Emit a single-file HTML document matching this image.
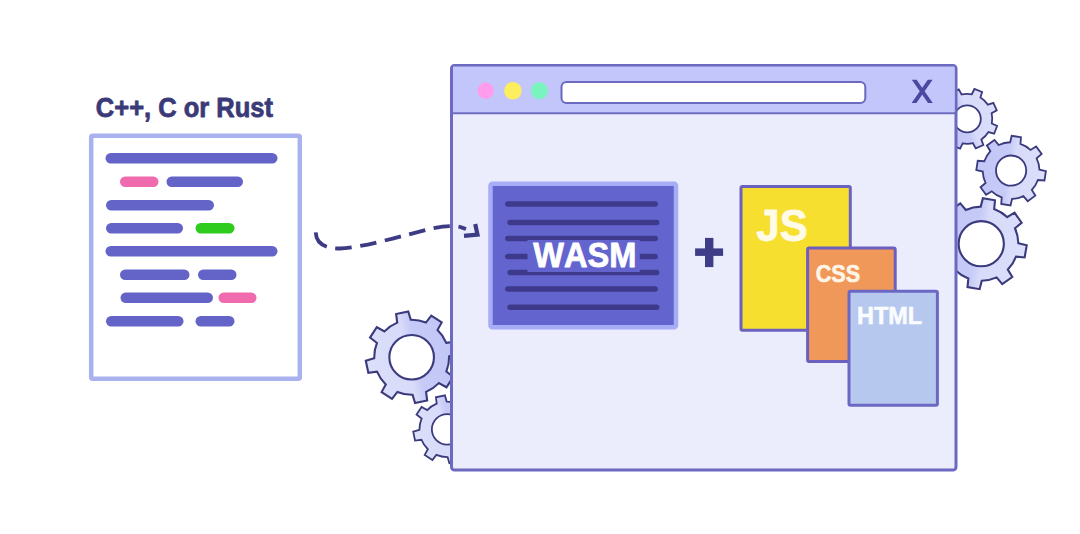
<!DOCTYPE html>
<html><head><meta charset="utf-8"><style>
html,body{margin:0;padding:0;background:#fff;width:1080px;height:534px;overflow:hidden}
svg{position:absolute;left:0;top:0;display:block}
text{font-family:"Liberation Sans",sans-serif;font-weight:bold;font-kerning:none}
</style></head><body>
<svg width="1080" height="534" viewBox="0 0 1080 534">
<text x="95.85" y="117.40" font-size="27.21" textLength="177.06" lengthAdjust="spacingAndGlyphs" fill="#3b3a78" stroke="#3b3a78" stroke-width="0.8" stroke-linejoin="round">C++, C or Rust</text>
<rect x="91.2" y="135.7" width="208.6" height="243" fill="#fff" stroke="#a9b2ee" stroke-width="4.5" rx="1.5"/>
<rect x="105.5" y="153" width="172.0" height="10.5" rx="5.25" fill="#6464c8"/>
<rect x="120" y="176.5" width="38.5" height="10.5" rx="5.25" fill="#f06aae"/>
<rect x="166.5" y="176.5" width="76.5" height="10.5" rx="5.25" fill="#6464c8"/>
<rect x="106" y="200" width="108" height="10.5" rx="5.25" fill="#6464c8"/>
<rect x="106" y="223" width="77" height="10.5" rx="5.25" fill="#6464c8"/>
<rect x="195.5" y="223" width="39.0" height="10.5" rx="5.25" fill="#2fcc1e"/>
<rect x="105.5" y="246" width="172.0" height="10.5" rx="5.25" fill="#6464c8"/>
<rect x="120" y="269.5" width="69.5" height="10.5" rx="5.25" fill="#6464c8"/>
<rect x="198" y="269.5" width="38.5" height="10.5" rx="5.25" fill="#6464c8"/>
<rect x="120.5" y="292.5" width="92.5" height="10.5" rx="5.25" fill="#6464c8"/>
<rect x="218.5" y="292.5" width="38.0" height="10.5" rx="5.25" fill="#f06aae"/>
<rect x="106" y="316" width="77.5" height="10.5" rx="5.25" fill="#6464c8"/>
<rect x="195.5" y="316" width="39.0" height="10.5" rx="5.25" fill="#6464c8"/>
<linearGradient id="gA" gradientUnits="userSpaceOnUse" x1="938.4" y1="129.4" x2="996.1" y2="108.3">
<stop offset="0" stop-color="#c2c6f6"/><stop offset="0.44" stop-color="#c6caf7"/><stop offset="0.54" stop-color="#d8dbf9"/><stop offset="1" stop-color="#dcdffa"/></linearGradient>
<path d="M991.84,123.45 L997.11,125.99 L994.11,133.71 L988.51,132.04 A25.02,25.02 0 0 1 981.39,139.49 L983.32,145.01 L975.73,148.35 L972.96,143.21 A25.02,25.02 0 0 1 962.65,143.44 L960.11,148.71 L952.39,145.71 L954.06,140.11 A25.02,25.02 0 0 1 946.61,132.99 L941.09,134.92 L937.75,127.33 L942.89,124.56 A25.02,25.02 0 0 1 942.66,114.25 L937.39,111.71 L940.39,103.99 L945.99,105.66 A25.02,25.02 0 0 1 953.11,98.21 L951.18,92.69 L958.77,89.35 L961.54,94.49 A25.02,25.02 0 0 1 971.85,94.26 L974.39,88.99 L982.11,91.99 L980.44,97.59 A25.02,25.02 0 0 1 987.89,104.71 L993.41,102.78 L996.75,110.37 L991.61,113.14 A25.02,25.02 0 0 1 991.84,123.45 Z" fill="url(#gA)" stroke="#3b3a7c" stroke-width="1.80" stroke-linejoin="miter"/>
<circle cx="967.25" cy="118.85" r="13.55" fill="#fff" stroke="#3b3a7c" stroke-width="1.80"/>
<linearGradient id="gB" gradientUnits="userSpaceOnUse" x1="976.6" y1="166.4" x2="1045.6" y2="174.8">
<stop offset="0" stop-color="#c2c6f6"/><stop offset="0.44" stop-color="#c6caf7"/><stop offset="0.54" stop-color="#d8dbf9"/><stop offset="1" stop-color="#dcdffa"/></linearGradient>
<path d="M1039.45,169.66 L1045.90,171.17 L1044.47,180.46 L1037.87,179.98 A28.36,28.36 0 0 1 1031.81,189.98 L1035.30,195.61 L1027.73,201.17 L1023.40,196.16 A28.36,28.36 0 0 1 1012.04,198.95 L1010.53,205.40 L1001.24,203.97 L1001.72,197.37 A28.36,28.36 0 0 1 991.72,191.31 L986.09,194.80 L980.53,187.23 L985.54,182.90 A28.36,28.36 0 0 1 982.75,171.54 L976.30,170.03 L977.73,160.74 L984.33,161.22 A28.36,28.36 0 0 1 990.39,151.22 L986.90,145.59 L994.47,140.03 L998.80,145.04 A28.36,28.36 0 0 1 1010.16,142.25 L1011.67,135.80 L1020.96,137.23 L1020.48,143.83 A28.36,28.36 0 0 1 1030.48,149.89 L1036.11,146.40 L1041.67,153.97 L1036.66,158.30 A28.36,28.36 0 0 1 1039.45,169.66 Z" fill="url(#gB)" stroke="#3b3a7c" stroke-width="1.80" stroke-linejoin="miter"/>
<circle cx="1011.1" cy="170.6" r="15.10" fill="#fff" stroke="#3b3a7c" stroke-width="1.80"/>
<linearGradient id="gC" gradientUnits="userSpaceOnUse" x1="936.3" y1="236.6" x2="1026.2" y2="250.8">
<stop offset="0" stop-color="#c2c6f6"/><stop offset="0.44" stop-color="#c6caf7"/><stop offset="0.54" stop-color="#d8dbf9"/><stop offset="1" stop-color="#dcdffa"/></linearGradient>
<path d="M1018.33,243.18 L1026.72,245.32 L1024.63,257.43 L1016.01,256.63 A37.08,37.08 0 0 1 1007.84,269.55 L1012.26,277.00 L1002.22,284.08 L996.68,277.42 A37.08,37.08 0 0 1 981.77,280.78 L979.63,289.17 L967.52,287.08 L968.32,278.46 A37.08,37.08 0 0 1 955.40,270.29 L947.95,274.71 L940.87,264.67 L947.53,259.13 A37.08,37.08 0 0 1 944.17,244.22 L935.78,242.08 L937.87,229.97 L946.49,230.77 A37.08,37.08 0 0 1 954.66,217.85 L950.24,210.40 L960.28,203.32 L965.82,209.98 A37.08,37.08 0 0 1 980.73,206.62 L982.87,198.23 L994.98,200.32 L994.18,208.94 A37.08,37.08 0 0 1 1007.10,217.11 L1014.55,212.69 L1021.63,222.73 L1014.97,228.27 A37.08,37.08 0 0 1 1018.33,243.18 Z" fill="url(#gC)" stroke="#3b3a7c" stroke-width="2.10" stroke-linejoin="miter"/>
<circle cx="981.25" cy="243.7" r="22.60" fill="#fff" stroke="#3b3a7c" stroke-width="2.10"/>
<linearGradient id="gD" gradientUnits="userSpaceOnUse" x1="456.6" y1="347.7" x2="366.7" y2="366.8">
<stop offset="0" stop-color="#c2c6f6"/><stop offset="0.44" stop-color="#c6caf7"/><stop offset="0.54" stop-color="#d8dbf9"/><stop offset="1" stop-color="#dcdffa"/></linearGradient>
<path d="M446.26,342.84 L454.94,341.70 L457.52,353.85 L449.13,356.34 A37.49,37.49 0 0 1 446.31,371.53 L453.26,376.87 L446.49,387.28 L438.80,383.11 A37.49,37.49 0 0 1 426.06,391.86 L427.20,400.54 L415.05,403.12 L412.56,394.73 A37.49,37.49 0 0 1 397.37,391.91 L392.03,398.86 L381.62,392.09 L385.79,384.40 A37.49,37.49 0 0 1 377.04,371.66 L368.36,372.80 L365.78,360.65 L374.17,358.16 A37.49,37.49 0 0 1 376.99,342.97 L370.04,337.63 L376.81,327.22 L384.50,331.39 A37.49,37.49 0 0 1 397.24,322.64 L396.10,313.96 L408.25,311.38 L410.74,319.77 A37.49,37.49 0 0 1 425.93,322.59 L431.27,315.64 L441.68,322.41 L437.51,330.10 A37.49,37.49 0 0 1 446.26,342.84 Z" fill="url(#gD)" stroke="#3b3a7c" stroke-width="2.10" stroke-linejoin="miter"/>
<circle cx="411.65" cy="357.25" r="22.30" fill="#fff" stroke="#3b3a7c" stroke-width="2.10"/>
<linearGradient id="gE" gradientUnits="userSpaceOnUse" x1="480.0" y1="420.6" x2="414.3" y2="438.1">
<stop offset="0" stop-color="#c2c6f6"/><stop offset="0.44" stop-color="#c6caf7"/><stop offset="0.54" stop-color="#d8dbf9"/><stop offset="1" stop-color="#dcdffa"/></linearGradient>
<path d="M472.82,418.92 L479.25,418.14 L481.08,427.13 L474.86,428.92 A27.71,27.71 0 0 1 472.68,440.13 L477.78,444.12 L472.71,451.77 L467.05,448.64 A27.71,27.71 0 0 1 457.58,455.02 L458.36,461.45 L449.37,463.28 L447.58,457.06 A27.71,27.71 0 0 1 436.37,454.88 L432.38,459.98 L424.73,454.91 L427.86,449.25 A27.71,27.71 0 0 1 421.48,439.78 L415.05,440.56 L413.22,431.57 L419.44,429.78 A27.71,27.71 0 0 1 421.62,418.57 L416.52,414.58 L421.59,406.93 L427.25,410.06 A27.71,27.71 0 0 1 436.72,403.68 L435.94,397.25 L444.93,395.42 L446.72,401.64 A27.71,27.71 0 0 1 457.93,403.82 L461.92,398.72 L469.57,403.79 L466.44,409.45 A27.71,27.71 0 0 1 472.82,418.92 Z" fill="url(#gE)" stroke="#3b3a7c" stroke-width="1.80" stroke-linejoin="miter"/>
<circle cx="447.15" cy="429.35" r="15.30" fill="#fff" stroke="#3b3a7c" stroke-width="1.80"/>
<rect x="451.5" y="65.5" width="504.5" height="404.5" fill="#ebedfc" stroke="#6b69c0" stroke-width="3" rx="3"/>
<path d="M453,66.5 H954.5 V112.5 H453 Z" fill="#c2c6fa"/>
<line x1="452" y1="113.2" x2="956" y2="113.2" stroke="#6b69c0" stroke-width="2"/>
<circle cx="485.7" cy="90.8" r="8.2" fill="#ff9cec"/>
<circle cx="512.9" cy="90.8" r="8.8" fill="#fcee5c"/>
<circle cx="539.4" cy="90.8" r="8.5" fill="#7af4be"/>
<rect x="561.5" y="82" width="303.8" height="21" rx="5" fill="#fff" stroke="#6b69c0" stroke-width="2"/>
<path d="M911.8,79.8 H916.6 L932.8,103 H928 Z M927.8,79.8 H932.6 L916.4,103 H911.6 Z" fill="#4a48a0"/>
<path d="M315.7,232.3 C316.2,244 326,248.6 340,248.5 C360,248.3 405,235 432,228.5 C446,225.6 455,225.3 462,227.6 L466,229" fill="none" stroke="#3e3b85" stroke-width="3.8" stroke-dasharray="19.5 8.6 16.5 8.6 16.5 8.6 16.5 8.6 16.5 8.6 16.5 8.6 16.5 8.6 16.5 100"/>
<path d="M464,235.8 L477.5,234.6 L475.2,224" fill="none" stroke="#3e3b85" stroke-width="4.2"/>
<rect x="490.5" y="183.8" width="185.5" height="143.5" fill="#6464cf" stroke="#a6acf6" stroke-width="4.5" rx="2"/>
<line x1="507.8" y1="204.1" x2="655.2" y2="204.1" stroke="#3d3a8c" stroke-width="5.5" stroke-linecap="round"/>
<line x1="510.1" y1="222.4" x2="656.7" y2="222.4" stroke="#3d3a8c" stroke-width="5.5" stroke-linecap="round"/>
<line x1="507.8" y1="238.4" x2="655.2" y2="238.4" stroke="#3d3a8c" stroke-width="5.5" stroke-linecap="round"/>
<line x1="507.8" y1="256.6" x2="655.2" y2="256.6" stroke="#3d3a8c" stroke-width="5.5" stroke-linecap="round"/>
<line x1="510.1" y1="272.6" x2="656.7" y2="272.6" stroke="#3d3a8c" stroke-width="5.5" stroke-linecap="round"/>
<line x1="507.8" y1="288.9" x2="655.2" y2="288.9" stroke="#3d3a8c" stroke-width="5.5" stroke-linecap="round"/>
<line x1="510.1" y1="307.2" x2="656.7" y2="307.2" stroke="#3d3a8c" stroke-width="5.5" stroke-linecap="round"/>
<rect x="527.5" y="240" width="112.3" height="32" fill="#6464cf"/>
<text x="533.17" y="267.40" font-size="34.88" textLength="103.11" lengthAdjust="spacingAndGlyphs" fill="#ffffff" stroke="#ffffff" stroke-width="0.8" stroke-linejoin="round">WASM</text>
<rect x="695.1" y="248.4" width="28" height="7.5" fill="#3f3c88"/>
<rect x="705" y="237.9" width="8.4" height="29.2" fill="#3f3c88"/>
<rect x="741" y="186.5" width="109.3" height="143.8" fill="#f7df2f" stroke="#6b62bf" stroke-width="3" rx="1.5"/>
<text x="756.36" y="241.00" font-size="45.20" textLength="51.38" lengthAdjust="spacingAndGlyphs" fill="#fffbe6" stroke="#fffbe6" stroke-width="0.8" stroke-linejoin="round">JS</text>
<rect x="807.6" y="248.1" width="87.6" height="113.5" fill="#ef985a" stroke="#6c5fbd" stroke-width="3" rx="1.5"/>
<text x="815.71" y="282.10" font-size="23.63" textLength="44.43" lengthAdjust="spacingAndGlyphs" fill="#fff5e6" stroke="#fff5e6" stroke-width="0.6" stroke-linejoin="round">CSS</text>
<rect x="849" y="291.3" width="88.4" height="114" fill="#b7c8ee" stroke="#6b68c4" stroke-width="3" rx="1.5"/>
<text x="857.13" y="324.40" font-size="23.26" textLength="64.99" lengthAdjust="spacingAndGlyphs" fill="#fafcff" stroke="#fafcff" stroke-width="0.6" stroke-linejoin="round">HTML</text>
</svg>
</body></html>
